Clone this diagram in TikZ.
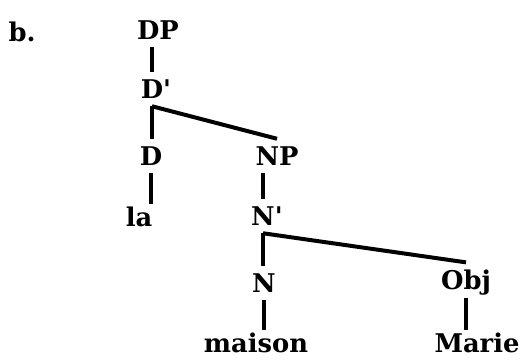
\documentclass[tikz,border=0pt]{standalone}
\usepackage{fontspec}
\setmainfont{DejaVu Serif}
\begin{document}
\begin{tikzpicture}[x=0.03cm, y=-0.03cm,
  cat/.style={inner sep=6.5pt, font=\fontsize{22}{26}\selectfont\bfseries},
  branch/.style={line width=3.4pt},
  leaf/.style={branch, shorten >=-4pt}]
\useasboundingbox (0,0) rectangle (526,359);

\node[cat] (ex) at (22,32) {b.};

\node[cat] (dp) at (158,30) {DP};
\node[cat] (dbar) at (152,89) {D\rlap{\textquotesingle}};
\node[cat] (d) at (151,156) {D};
\node[cat] (np) at (277,156) {NP};
\node[cat] (la) at (139,217) {la};
\node[cat] (nbar) at (263,216) {N\rlap{\textquotesingle}};
\node[cat] (n) at (264,283) {N};
\node[cat, text depth=0pt] (obj) at (466,280) {Obj};
\node[cat] (maison) at (256,343) {maison};
\node[cat] (marie) at (477,343) {Marie};

\draw[branch] (dbar.north |- dp.south) -- (dbar.north);
\draw[branch] (dbar.south) -- (dbar.south |- d.north);
\draw[branch] (dbar.south) -- (np.north);
\draw[leaf] (d.south) -- (d.south |- la.north);
\draw[branch] (nbar.north |- np.south) -- (nbar.north);
\draw[branch] (nbar.south) -- (nbar.south |- n.north);
\draw[branch] (nbar.south) -- (obj.north);
\draw[leaf] (n.south) -- (n.south |- maison.north);
\draw[leaf] (obj.south) -- (obj.south |- marie.north);
\end{tikzpicture}
\end{document}
